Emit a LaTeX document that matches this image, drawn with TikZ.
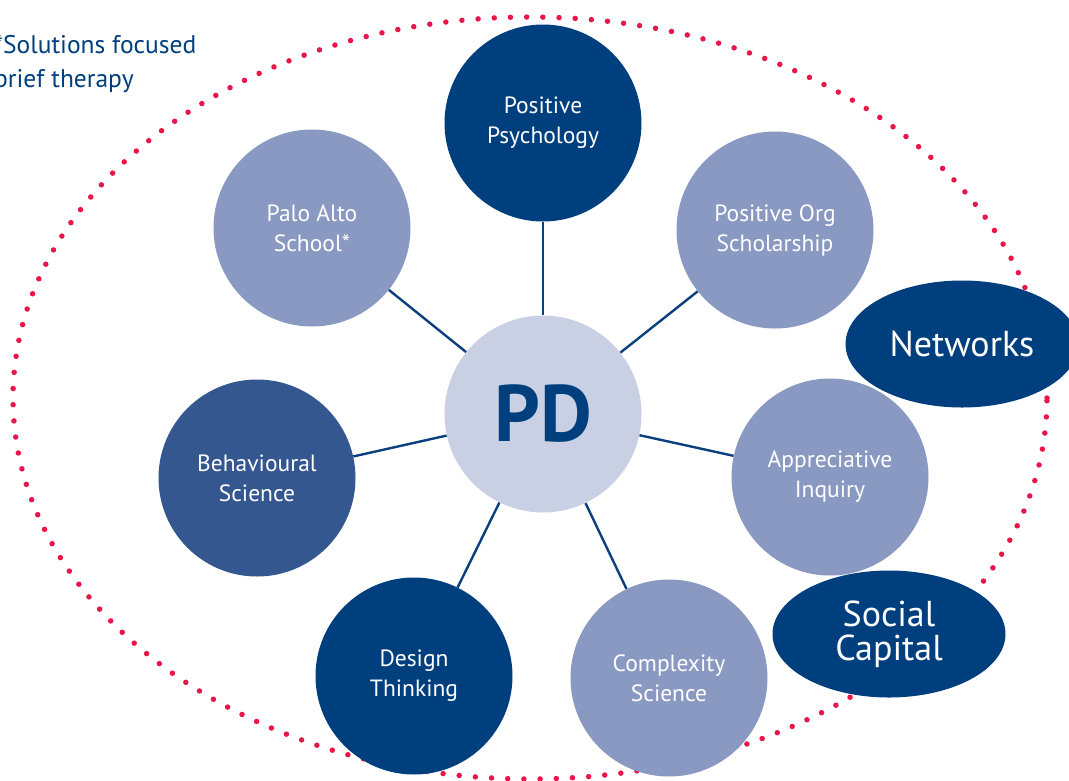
\documentclass[tikz,border=0pt]{standalone}
\usepackage{fontspec}
\setmainfont{PT Sans}
\usetikzlibrary{shapes.geometric,backgrounds}
\definecolor{navy}{HTML}{003F7E}
\definecolor{midblue}{HTML}{34578F}
\definecolor{lightblue}{HTML}{8A99C2}
\definecolor{pdfill}{HTML}{C9D0E4}
\definecolor{linecol}{HTML}{0B3F7D}
\definecolor{dotred}{HTML}{E8174A}
\tikzset{
  bubble/.style={circle, minimum size=197pt, inner sep=0pt, text=white, align=center,
    font=\fontsize{23.5}{30}\selectfont},
  dark/.style={bubble, fill=navy},
  mid/.style={bubble, fill=midblue},
  light/.style={bubble, fill=lightblue},
  oval/.style={ellipse, minimum width=233pt, minimum height=127pt, inner sep=0pt,
    fill=navy, text=white, align=center, font=\fontsize{36}{34}\selectfont},
  conn/.style={draw=linecol, line width=2.4pt},
  dotring/.style={draw=dotred, line width=5.5pt, line cap=round, dash pattern=on 0pt off 16.2pt},
  note/.style={text=navy, align=left, font=\fontsize{25.5}{34}\selectfont, anchor=north west, inner sep=0pt}
}
\begin{document}
\begin{tikzpicture}[x=1pt, y=-1pt]
\useasboundingbox (0,0) rectangle (1069,780);
\clip (0,0) rectangle (1069,780);
% nodes
\node[bubble, fill=pdfill, text=navy, font=\fontsize{80}{80}\selectfont\bfseries] (pd) at (543,414) {PD};
\node[dark]  (pp) at (543,123) {Positive\\Psychology};
\node[light] (pa) at (312,228) {Palo Alto\\School*};
\node[light] (po) at (775,230) {Positive Org\\Scholarship};
\node[mid]   (bs) at (257,478) {Behavioural\\Science};
\node[light] (ai) at (830,477) {Appreciative\\Inquiry};
\node[dark]  (dt) at (414,676) {Design\\Thinking};
\node[light] (cs) at (669,678) {Complexity\\Science};
\node[oval] (nw) at (962,344) {Networks};
\node[oval] (sc) at (889,634) {Social\\Capital};
\node[note] (fn) at (-6,35) {*Solutions focused\\brief therapy};
\begin{pgfonlayer}{background}
  \fill[white] (0,0) rectangle (1069,780);
  \draw[dotring] (530,398) ellipse [x radius=517pt, y radius=381pt];
  \draw[conn] (pd) -- (pp);
  \draw[conn] (pd) -- (pa);
  \draw[conn] (pd) -- (po);
  \draw[conn] (pd) -- (bs);
  \draw[conn] (pd) -- (ai);
  \draw[conn] (pd) -- (dt);
  \draw[conn] (pd) -- (cs);
\end{pgfonlayer}
\end{tikzpicture}
\end{document}
